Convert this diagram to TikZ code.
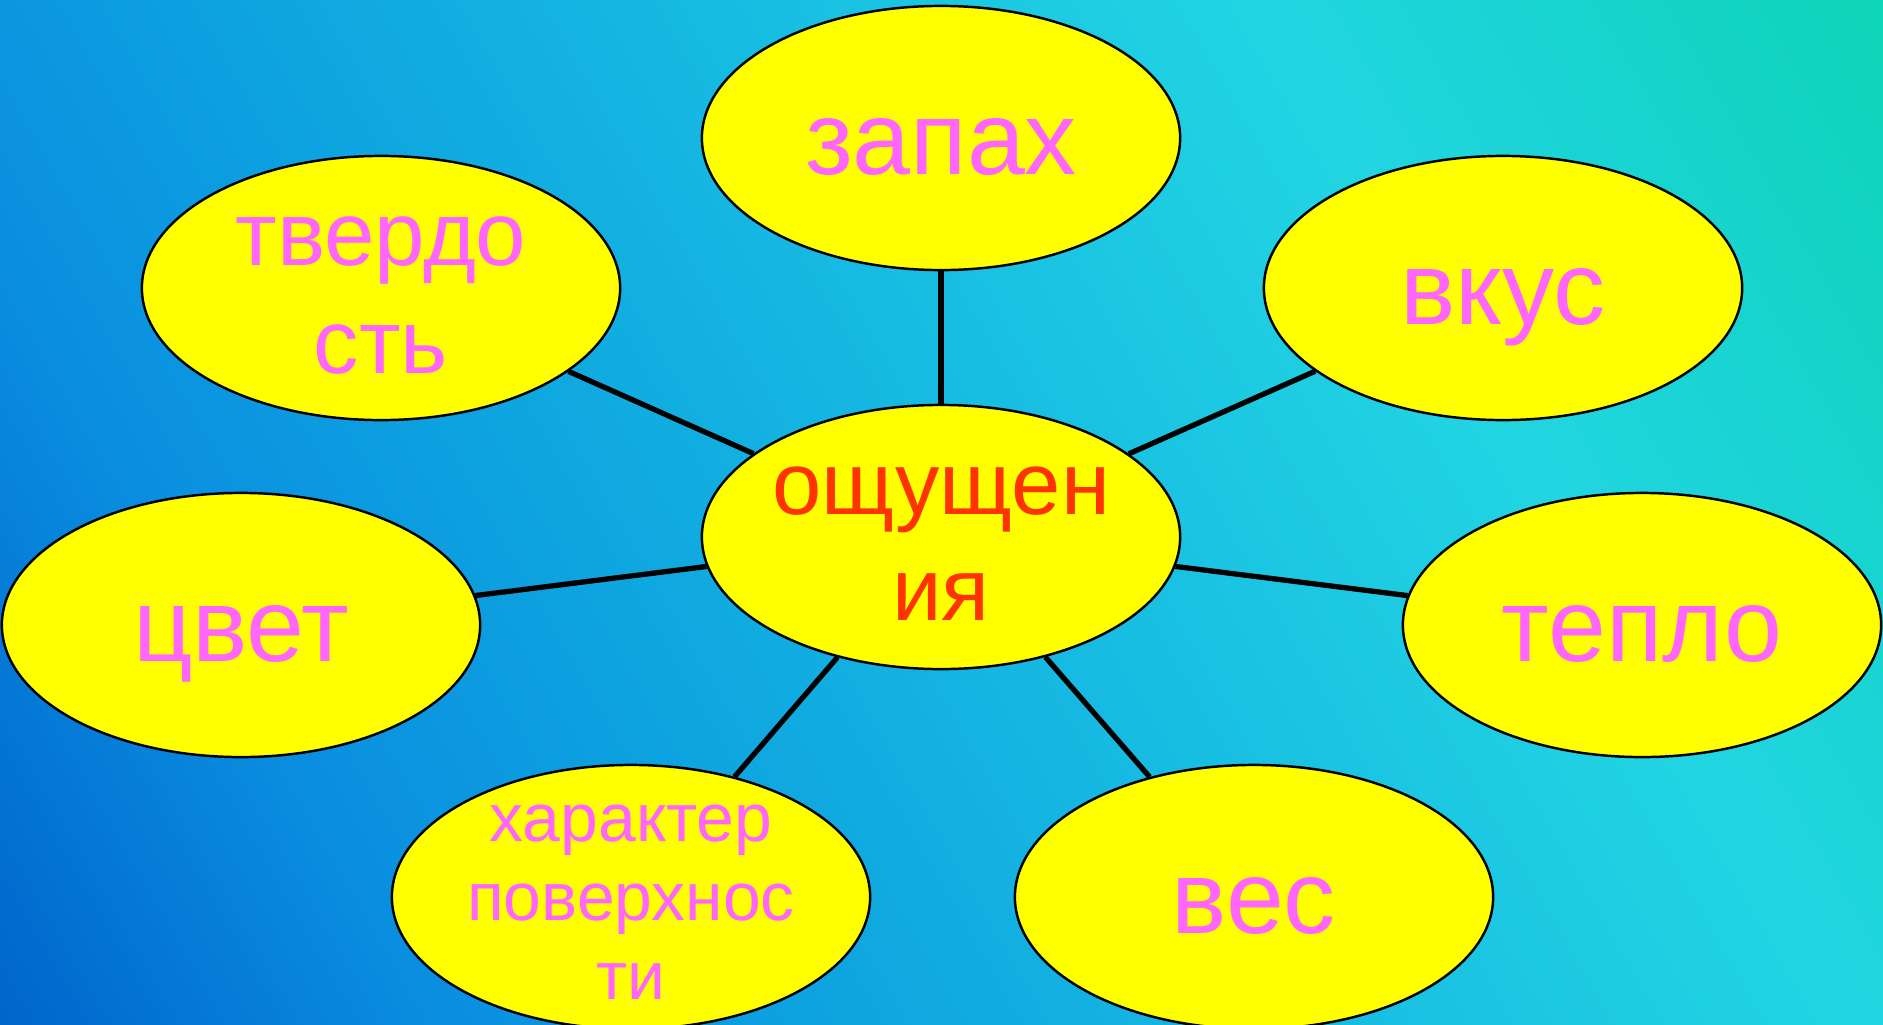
\documentclass[tikz,border=0pt]{standalone}
\usepackage{fontspec}
\setmainfont{Liberation Sans}
\usetikzlibrary{shapes.geometric}
\definecolor{skyA}{HTML}{0066CC}
\definecolor{skyB}{HTML}{0A8EE0}
\definecolor{skyC}{HTML}{0EA6E0}
\definecolor{skyD}{HTML}{16B8E2}
\definecolor{skyE}{HTML}{1CC8E2}
\definecolor{skyF}{HTML}{22D5E2}
\definecolor{skyG}{HTML}{18D4D0}
\definecolor{skyH}{HTML}{0ED4B8}
\definecolor{senseyellow}{HTML}{FFFF00}
\definecolor{sensepink}{HTML}{FF66FF}
\definecolor{hubred}{HTML}{FF3300}
\pgfdeclarehorizontalshading{skyshade}{100bp}{color(0bp)=(skyA); color(15.9bp)=(skyA);
  color(28bp)=(skyB); color(40bp)=(skyC); color(50bp)=(skyD); color(59bp)=(skyE);
  color(67bp)=(skyF); color(75bp)=(skyG); color(84bp)=(skyH); color(100bp)=(skyH)}
\newcommand\ovalstrut{\vrule height .905em depth .212em width 0pt}
\tikzset{
  sensebox/.style={ellipse, draw=black, line width=0.7pt, fill=senseyellow, inner sep=-2cm,
    minimum width=4.78cm, minimum height=2.64cm, align=center, text=sensepink,
    font=\fontsize{29.6}{34}\selectfont},
  senseline/.style={line width=1.5pt, draw=black}
}

\begin{document}
\begin{tikzpicture}[x=0.01cm, y=-0.01cm]
    \useasboundingbox (0,0) rectangle (1883,1024);
    \shade[shading=skyshade, shading angle=30] (0,0) rectangle (1883,1024);

    \node[sensebox, text=hubred, font=\fontsize{25.2}{30}\selectfont] (hub) at (941,537)
      {\ovalstrut ощущен\\\ovalstrut ия};
    \node[sensebox] (smell) at (941,138) {\ovalstrut запах};
    \node[sensebox, font=\fontsize{25.8}{30.7}\selectfont] (hardness) at (381,288)
      {\ovalstrut твердо\\\ovalstrut сть};
    \node[sensebox] (taste) at (1503,288) {\ovalstrut вкус};
    \node[sensebox] (colour) at (241,625) {\ovalstrut цвет};
    \node[sensebox] (warmth) at (1642,625) {\ovalstrut тепло};
    \node[sensebox, font=\fontsize{19.3}{22.4}\selectfont] (surface) at (631,897)
      {\ovalstrut характер\\\ovalstrut поверхнос\\\ovalstrut ти};
    \node[sensebox] (weight) at (1254,897) {\ovalstrut вес};

    \draw[senseline] (hub) -- (smell);
    \draw[senseline] (hub) -- (hardness);
    \draw[senseline] (hub) -- (taste);
    \draw[senseline] (hub) -- (colour);
    \draw[senseline] (hub) -- (warmth);
    \draw[senseline] (hub) -- (surface);
    \draw[senseline] (hub) -- (weight);
  \end{tikzpicture}
\end{document}
